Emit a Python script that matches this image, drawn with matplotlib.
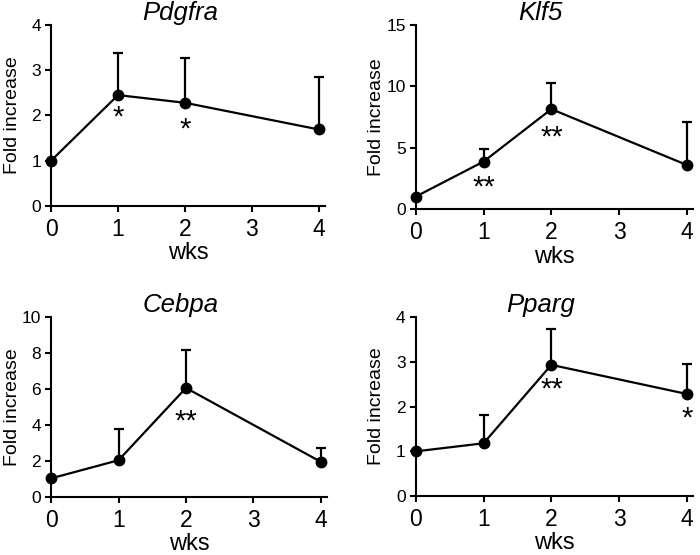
import numpy as np
import matplotlib
matplotlib.use("Agg")
import matplotlib.pyplot as plt

plt.rcParams['font.family'] = ['Liberation Sans', 'DejaVu Sans']

# dados
semanas = [0, 1, 2, 4]
genes = ["Pdgfra", "Klf5", "Cebpa", "Pparg"]

pdgfra_media = [1.0, 2.45, 2.28, 1.69]
pdgfra_erro = [0.0, 0.93, 0.99, 1.16]
klf5_media = [1.03, 3.88, 8.15, 3.6]
klf5_erro = [0.0, 1.03, 2.13, 3.5]
cebpa_media = [1.02, 2.03, 6.05, 1.94]
cebpa_erro = [0.0, 1.72, 2.1, 0.78]
pparg_media = [1.0, 1.18, 2.93, 2.28]
pparg_erro = [0.0, 0.64, 0.8, 0.67]

# limites e ticks do eixo y
ylims = [4, 15, 10, 4]
yticks = [[0, 1, 2, 3, 4], [0, 5, 10, 15], [0, 2, 4, 6, 8, 10], [0, 1, 2, 3, 4]]

# asteriscos: (x, y, texto)
pdgfra_sig = [(1, 2.05, "*"), (2, 1.8, "*")]
klf5_sig = [(1, 2.2, "**"), (2, 6.2, "**")]
cebpa_sig = [(2, 4.45, "**")]
pparg_sig = [(2, 2.48, "**"), (4, 1.85, "*")]

medias = [pdgfra_media, klf5_media, cebpa_media, pparg_media]
erros = [pdgfra_erro, klf5_erro, cebpa_erro, pparg_erro]
sigs = [pdgfra_sig, klf5_sig, cebpa_sig, pparg_sig]

# posicao dos eixos em fracao da figura [left, bottom, width, height]
posicoes = [
    [0.073, 0.629, 0.391, 0.326],
    [0.594, 0.623, 0.396, 0.332],
    [0.073, 0.105, 0.394, 0.324],
    [0.594, 0.106, 0.396, 0.323],
]
titulo_x = [0.47, 0.45, 0.47, 0.45]
titulo_pad = [-1.5, -2.5, 3.5, 3.5]

fig = plt.figure(figsize=(7.0, 5.55), dpi=100)

for i in range(4):
    ax = fig.add_axes(posicoes[i])
    ax.errorbar(semanas, medias[i], yerr=[np.zeros(4), erros[i]],
                color="black", lw=1.6, marker="o", markersize=7.5,
                capsize=3.5, capthick=1.6, elinewidth=1.6, clip_on=False, zorder=3)
    # asterisco fica alto no glifo, por isso o deslocamento para baixo
    for (x, y, s) in sigs[i]:
        ax.annotate(s, (x, y), xytext=(0, -3.5), textcoords="offset points",
                    ha="center", va="center", fontsize=21, color="black")
    ax.set_xlim(0, 4.09)
    ax.set_ylim(0, ylims[i])
    ax.set_xticks([0, 1, 2, 3, 4])
    ax.set_yticks(yticks[i])
    ax.spines['top'].set_visible(False)
    ax.spines['right'].set_visible(False)
    ax.spines['left'].set_linewidth(1.5)
    ax.spines['bottom'].set_linewidth(1.5)
    ax.tick_params(direction="out", length=4.3, width=1.5)
    ax.tick_params(axis="x", labelsize=16.5, pad=4.5)
    ax.tick_params(axis="y", labelsize=12.5, pad=3)
    ax.set_xlabel("wks", fontsize=17)
    ax.xaxis.set_label_coords(0.5, -0.2)
    ax.set_ylabel("Fold increase", fontsize=14)
    ax.yaxis.set_label_coords(-0.11, 0.5)
    ax.set_title(genes[i], fontsize=18.5, style="italic", pad=titulo_pad[i], x=titulo_x[i])

plt.savefig("out.png", dpi=100)
